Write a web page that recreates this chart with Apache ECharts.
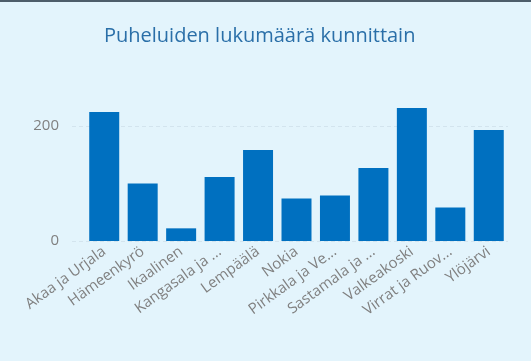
<!DOCTYPE html>
<html><head><meta charset="utf-8">
<script src="https://cdn.jsdelivr.net/npm/echarts@6/dist/echarts.min.js"></script>
<style>html,body{margin:0;padding:0;background:#e3f4fc;}#c{width:531px;height:361px;box-sizing:border-box;border-top:2px solid #4d5d6a;}</style>
</head><body><div id="c"></div>
<script>
const categories = ["Akaa ja Urjala","Hämeenkyrö","Ikaalinen","Kangasala ja ...","Lempäälä","Nokia","Pirkkala ja Ve...","Sastamala ja ...","Valkeakoski","Virrat ja Ruov...","Ylöjärvi"];
const values = [224, 100, 22, 111, 158, 74, 79, 127, 231, 58, 193];
const yTicks = [0, 200];

const chart = echarts.init(document.getElementById('c'), null, {renderer:'canvas'});
const font = '"Open Sans", "Noto Sans", sans-serif';
chart.setOption({
  backgroundColor: '#e3f4fc',
  animation: false,
  title: {text: 'Puheluiden lukumäärä kunnittain', left: 104, top: 24, padding: 0,
    textStyle: {color: '#2a6fa8', fontSize: 20, fontWeight: 'normal', fontFamily: font}},
  grid: [
    {left: 85, right: 23, top: 98, bottom: 120, containLabel: false},
    {left: 72, right: 23, top: 98, bottom: 120, containLabel: false}
  ],
  xAxis: [
    {type: 'category', data: categories, gridIndex: 0,
     axisLine: {show: false}, axisTick: {show: false},
     axisLabel: {rotate: 36, color: '#808080', fontSize: 15, fontFamily: font, margin: 9, interval: 0}},
    {type: 'category', data: categories, gridIndex: 1, show: false}
  ],
  yAxis: [
    {type: 'value', gridIndex: 0, min: 0, max: 245, interval: 200,
     axisLine: {show: false}, axisTick: {show: false}, splitLine: {show: false},
     axisLabel: {color: '#808080', fontSize: 15, fontFamily: font, margin: 26,
       formatter: v => yTicks.includes(v) ? String(v) : ''}},
    {type: 'value', gridIndex: 1, min: 0, max: 245, interval: 200,
     axisLine: {show: false}, axisTick: {show: false}, axisLabel: {show: false},
     splitLine: {show: true, showMaxLine: false, lineStyle: {color: '#d3e4ee', type: [4, 3], width: 1}}}
  ],
  series: [{type: 'bar', data: values, xAxisIndex: 0, yAxisIndex: 0, barCategoryGap: '22%',
    itemStyle: {color: '#0070c0'}, z: 3}]
});
</script></body></html>
